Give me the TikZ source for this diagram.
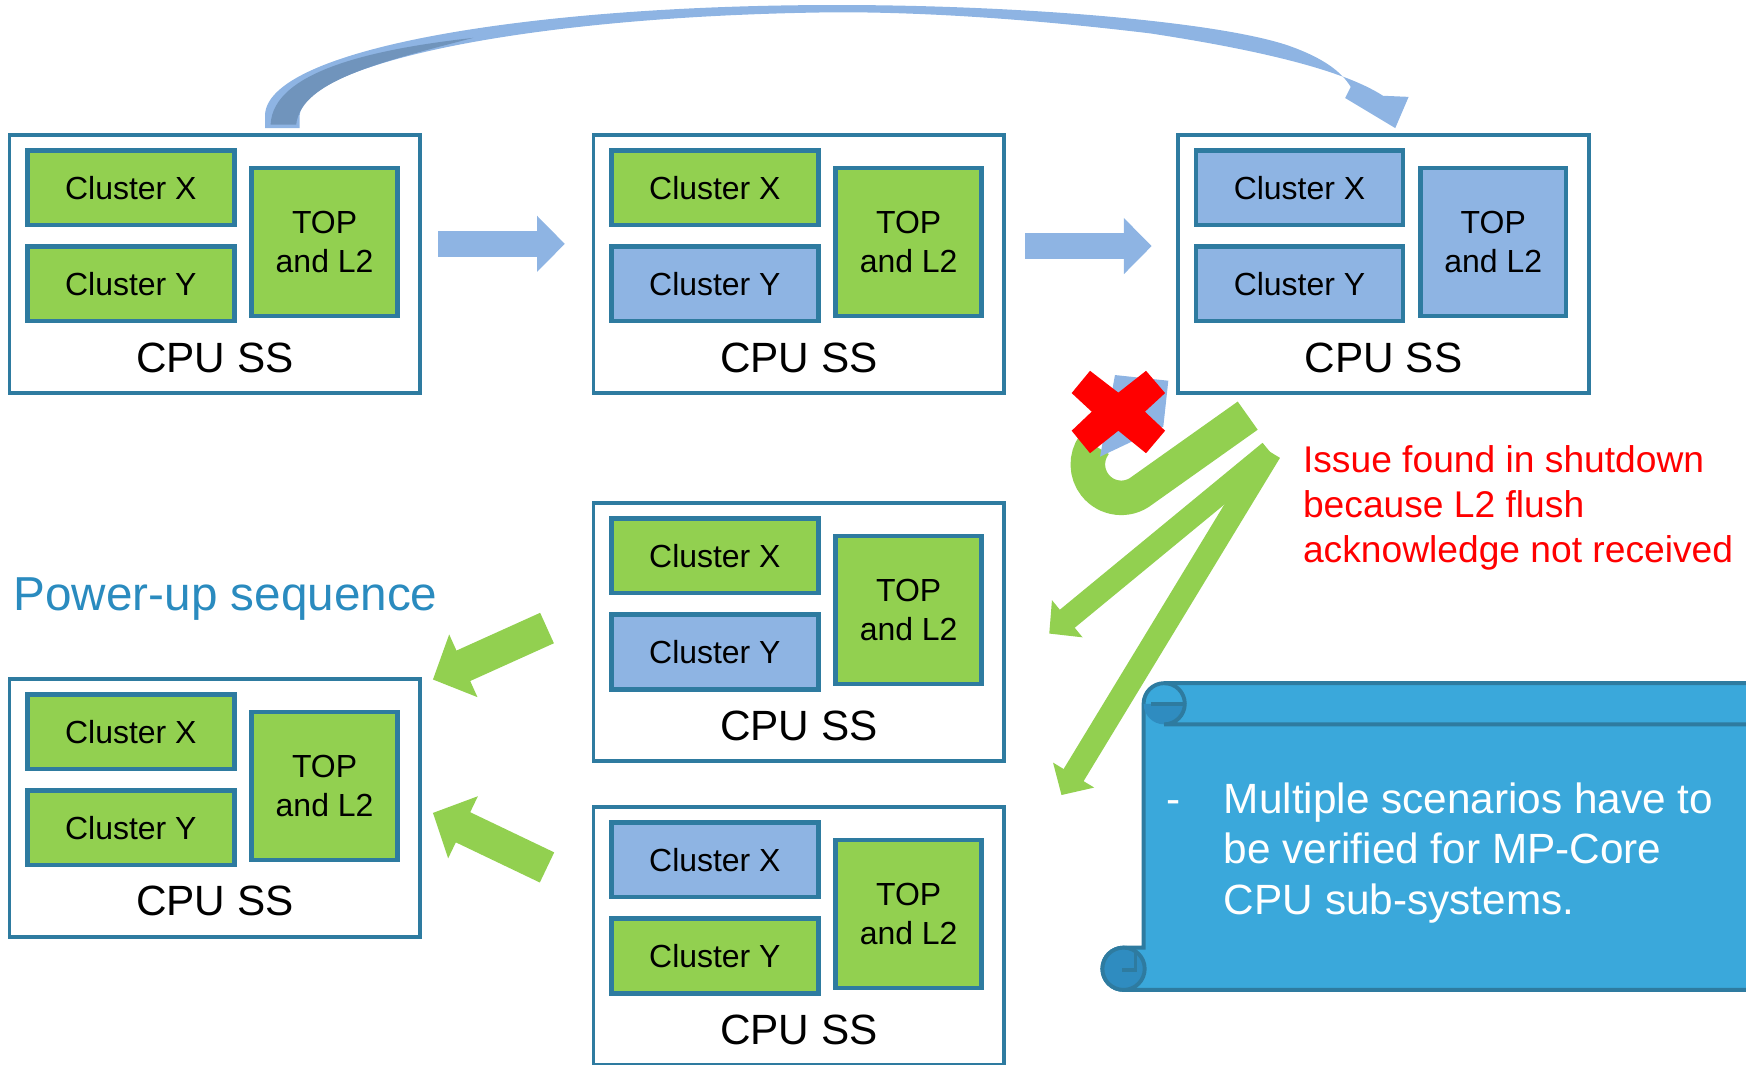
\documentclass[tikz,border=0pt]{standalone}
\usepackage{fontspec}
\setmainfont{Liberation Sans}
\usetikzlibrary{shapes,arrows.meta,positioning}

\definecolor{boxedge}{HTML}{2E7BA0}
\definecolor{ongreen}{HTML}{92D050}
\definecolor{offblue}{HTML}{8EB4E3}
\definecolor{arcdark}{HTML}{7094BC}
\definecolor{scrollblue}{HTML}{3AA8DB}
\definecolor{scrolldark}{HTML}{2F8CC0}
\definecolor{titleblue}{HTML}{2A8BBF}

\tikzstyle{cpubox} = [rectangle, draw=boxedge, line width=3.5pt, fill=white,
    minimum width=369pt, minimum height=232pt]
\tikzstyle{cluster} = [rectangle, draw=boxedge, line width=4pt, inner sep=0pt,
    minimum width=186pt, minimum height=67pt, font=\fontsize{28.7pt}{35pt}\selectfont]
\tikzstyle{topl2} = [cluster, minimum width=131pt, minimum height=133pt, align=center]
\tikzstyle{sslabel} = [inner sep=0pt, font=\fontsize{38pt}{45pt}\selectfont]
\tikzstyle{bluearrow} = [draw=offblue, line width=24pt, -{Triangle[width=49pt,length=25pt]}]
\tikzstyle{greenarrow} = [draw=ongreen, line width=30pt, -{Triangle[width=60pt,length=30pt]}]
\tikzstyle{thinarrow} = [draw=ongreen, line width=21pt, -{Triangle[width=42pt,length=21pt]}]

% parts inside one CPU SS box: name, colour of X, of Y, of TOP
\newcommand{\cpuparts}[4]{%
  \node [cluster, fill=#2] (#1x) at ([shift={(-75.5,-68.5)}]#1.center) {Cluster X};
  \node [cluster, fill=#3] (#1y) at ([shift={(-75.5,18)}]#1.center) {Cluster Y};
  \node [topl2, fill=#4] (#1t) at ([shift={(98.5,-19.5)}]#1.center) {TOP\\and L2};
  \node [sslabel] (#1l) at ([shift={(0,84)}]#1.center) {CPU SS};
}

\begin{document}
\begin{tikzpicture}[x=1pt, y=-1pt]
		\useasboundingbox (0,0) rectangle (1568,956);
		% Draw nodes
		\node [cpubox] (allon) at (193,237) {};
		\node [cpubox, right of=allon, node distance=524.5pt] (yoff) {};
		\node [cpubox, right of=yoff, node distance=525pt] (alloff) {};
		\node [cpubox, below of=yoff, node distance=330.5pt] (yoffb) {};
		\node [cpubox, below of=yoffb, node distance=273pt] (xoff) {};
		\node [cpubox, below of=allon, node distance=488.5pt] (powerup) {};
		\cpuparts{allon}{ongreen}{ongreen}{ongreen}
		\cpuparts{yoff}{ongreen}{offblue}{ongreen}
		\cpuparts{alloff}{offblue}{offblue}{offblue}
		\cpuparts{yoffb}{ongreen}{offblue}{ongreen}
		\cpuparts{xoff}{offblue}{ongreen}{ongreen}
		\cpuparts{powerup}{ongreen}{ongreen}{ongreen}
		\node [anchor=base west, inner sep=0pt, text=titleblue,
		    font=\fontsize{42.8pt}{50pt}\selectfont] (title) at (12,548) {Power-up sequence};
		\node [anchor=west, align=left, inner sep=0pt, text=red,
		    font=\fontsize{33.4pt}{40.5pt}\selectfont] (issue) at (1170,456)
		    {Issue found in shutdown\\because L2 flush\\acknowledge not received};
		% Draw lines connecting (arrows)
		\path [bluearrow, shorten <=14.5pt, shorten >=24pt] ([yshift=18pt]allon.east) -- ([yshift=18pt]yoff.west);
		\path [bluearrow, shorten <=17pt, shorten >=22pt] ([yshift=16pt]yoff.east) -- ([yshift=16pt]alloff.west);
		\path [greenarrow] ([shift={(-40,-3.5)}]yoffb.west) -- ([shift={(9.5,2.5)}]powerup.north east);
		\path [greenarrow] ([shift={(-40,-61.5)}]xoff.west) -- ([shift={(9.5,4.5)}]powerup.east);
		\coordinate (fork) at ([shift={(-102,51)}]alloff.south);
		\path [thinarrow] (fork) -- ([shift={(38.5,1.5)}]yoffb.east);
		\path [thinarrow] (fork) -- ([shift={(49.5,-126.5)}]xoff.east);
		% long arrow over the top
		\fill [offblue] (238,115) -- (238,104) .. controls (238,45) and (470,4.5) .. (752,4.5)
		    .. controls (920,4.5) and (1100,20) .. (1160,42) .. controls (1190,53) and (1205,65) .. (1213,78)
		    -- (1208,88) -- (1253,115) -- (1265,87) -- (1242,86)
		    .. controls (1205,62) and (1125,44) .. (1033,30) .. controls (950,20) and (850,11) .. (752,11)
		    .. controls (470,14) and (272,58) .. (269,104) -- (269,115) -- cycle;
		\fill [arcdark] (243,112) .. controls (245,64) and (335,44) .. (425,34)
		    .. controls (345,55) and (270,72) .. (266,112) -- cycle;
		% failed turn back
		\draw [ongreen, line width=31pt] ([shift={(-122,18.5)}]alloff.south) -- (1025.4,440.7)
		    arc[start angle=52, end angle=215, radius=30];
		\fill [offblue] (987.9,410.1) -- (1001.3,336.8) -- (1049.2,341.9) -- (1044.7,383.2) -- cycle;
		\fill [red] (962.4,353) -- (978.9,333) -- (1004.3,352.6) -- (1029.2,333) -- (1046.3,353)
		    -- (1028.2,369.7) -- (1046.3,386.8) -- (1029.2,407) -- (1004.3,386.8) -- (978.9,407)
		    -- (962.4,386.8) -- (980.4,369.7) -- cycle;
		% scroll
		\filldraw [fill=scrollblue, draw=boxedge, line width=3.5pt]
		    (1045.5,613.5) -- (1600,613.5) -- (1600,889) -- (1009,889)
		    arc[start angle=90, end angle=270, radius=19] -- (1027,851) -- (1027,632)
		    arc[start angle=180, end angle=270, radius=18.5] -- cycle;
		\fill [scrolldark] (1027,632) arc[start angle=180, end angle=0, radius=18.5] -- cycle;
		\draw [boxedge, line width=3.5pt] (1045.5,613.5) arc[start angle=270, end angle=450, radius=18.5]
		    -- (1600,650.5);
		\draw [boxedge, line width=3.5pt] (1034,632) -- (1064,632);
		\filldraw [fill=scrolldark, draw=boxedge, line width=3.5pt] (1009,870) circle[radius=19];
		\draw [boxedge, line width=3pt] (1008,871) -- (1020,871) -- (1020,856);
		\node [anchor=base west, inner sep=0pt, text=white,
		    font=\fontsize{38pt}{45pt}\selectfont] (dash) at (1047,730.6) {-};
		\node [anchor=west, align=left, inner sep=0pt, text=white,
		    font=\fontsize{38pt}{45pt}\selectfont] (note) at (1099,766)
		    {Multiple scenarios have to\\be verified for MP-Core\\CPU sub-systems.};
	\end{tikzpicture}
\end{document}
